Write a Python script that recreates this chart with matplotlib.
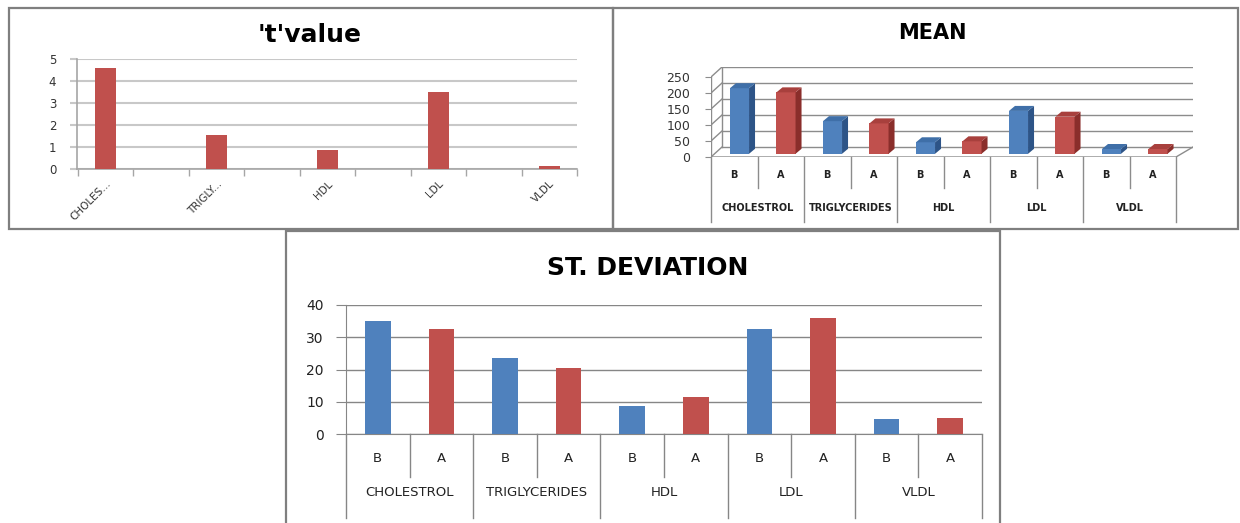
import matplotlib
matplotlib.use("Agg")
import matplotlib.pyplot as plt
from matplotlib.patches import Polygon, Rectangle
from matplotlib.transforms import blended_transform_factory

W, H = 1240, 523

groups = ["CHOLESTROL", "TRIGLYCERIDES", "HDL", "LDL", "VLDL"]
t_labels = ["CHOLES...", "TRIGLY...", "HDL", "LDL", "VLDL"]
phases = ["B", "A"]
t_value = [4.6, 1.53, 0.85, 3.5, 0.15]
mean_before = [205, 102, 36, 134, 15]
mean_after = [192, 95, 39, 116, 15]
sd_before = [35.0, 23.5, 8.7, 32.5, 4.65]
sd_after = [32.5, 20.5, 11.6, 36.1, 4.95]

BLUE = "#4f81bd"
RED = "#c0504d"
BLUE_SIDE, BLUE_TOP = "#2d5487", "#3f6fa8"
RED_SIDE, RED_TOP = "#8a2e2b", "#a8403d"
GRID = "#8c8c8c"

plt.rcParams["font.family"] = "DejaVu Sans"
fig = plt.figure(figsize=(W / 100, H / 100), dpi=100)


def px_axes(left, top, right, bottom):
    ax = fig.add_axes([left / W, 1 - bottom / H, (right - left) / W, (bottom - top) / H])
    ax.patch.set_visible(False)
    return ax


def fy(py):
    return 1 - py / H


# panel frames
for l, t, r, b in [(9, 8, 613, 229), (613, 8, 1238, 229), (286, 231, 1000, 540)]:
    fig.patches.append(Rectangle((l / W, fy(b)), (r - l) / W, (b - t) / H,
                                 transform=fig.transFigure, fill=False,
                                 ec="#7f7f7f", lw=1.6, zorder=0))

# ---- 't' value ----
ax1 = px_axes(77, 59, 577, 169)
x1 = list(range(len(t_value)))
ax1.bar(x1, t_value, width=0.19, color=RED, zorder=3)
ax1.set_xlim(-0.257, 4.25)
ax1.set_ylim(0, 5)
ax1.set_yticks(range(6))
ax1.yaxis.grid(True, color="#c8c8c8", lw=1.5)
ax1.set_axisbelow(True)
for s in ["top", "right"]:
    ax1.spines[s].set_visible(False)
for s in ["left", "bottom"]:
    ax1.spines[s].set_color("#a6a6a6")
    ax1.spines[s].set_linewidth(1.2)
ax1.tick_params(axis="y", length=5, color="#c8c8c8", width=1.5, labelsize=8.5,
                pad=10, labelcolor="#333333")
ax1.set_xticks(x1)
ax1.set_xticklabels(t_labels, rotation=45, ha="right", va="top",
                    rotation_mode="anchor", fontsize=7.5, color="#333333")
ax1.tick_params(axis="x", which="major", length=0, pad=7)
ax1.set_xticks([-0.25 + 0.5 * k for k in range(10)], minor=True)
ax1.tick_params(axis="x", which="minor", length=5, color="#a6a6a6", width=1)
fig.text(310 / W, fy(42), "'t'value", ha="center", va="baseline",
         fontsize=18, fontweight="bold")

# ---- MEAN (3-D columns) ----
SLOT, PXU = 46.5, 0.32          # pixels per slot, pixels per unit
wall_l, wall_r, wall_dy = 11 / SLOT, 17 / SLOT, 10 / PXU
side_dx, side_dy = 6 / SLOT, 5 / PXU
base, shift, bw = 3.2 / PXU, 0.113, 0.41
x_end = 9.5

ax2 = px_axes(711, 67, 1193, 157)
ax2.set_xlim(-0.5, x_end + wall_r)
ax2.set_ylim(0, 90 / PXU)
for s in ax2.spines.values():
    s.set_visible(False)
ax2.set_xticks([])
yt = list(range(0, 251, 50))
ax2.set_yticks(yt)
ax2.tick_params(axis="y", length=4, color=GRID, labelsize=9, pad=11,
                labelcolor="#333333")

for v in yt:
    ax2.plot([-0.5 + wall_l, x_end + wall_r], [v + wall_dy] * 2, color=GRID, lw=1, zorder=1)
    ax2.plot([-0.5, -0.5 + wall_l], [v, v + wall_dy], color=GRID, lw=1, zorder=1)
ax2.plot([-0.5 + wall_l] * 2, [wall_dy, yt[-1] + wall_dy], color=GRID, lw=1, zorder=1)
ax2.plot([-0.5, -0.5], [0, yt[-1]], color=GRID, lw=1, zorder=1)
ax2.plot([-0.5, x_end, x_end + wall_r], [0, 0, wall_dy], color=GRID, lw=1, zorder=1)

for j, (vals, front, side, top) in enumerate([(mean_before, BLUE, BLUE_SIDE, BLUE_TOP),
                                               (mean_after, RED, RED_SIDE, RED_TOP)]):
    xs = [2 * i + j + shift for i in range(len(vals))]
    ax2.bar(xs, vals, width=bw, bottom=base, color=front, zorder=3)
    for xc, v in zip(xs, vals):
        xl, xr = xc - bw / 2, xc + bw / 2
        ax2.add_patch(Polygon([(xr, base), (xr + side_dx, base + side_dy),
                               (xr + side_dx, base + v + side_dy), (xr, base + v)],
                              closed=True, fc=side, ec="none", zorder=3))
        ax2.add_patch(Polygon([(xl, base + v), (xr, base + v),
                               (xr + side_dx, base + v + side_dy),
                               (xl + side_dx, base + v + side_dy)],
                              closed=True, fc=top, ec="none", zorder=3))

tr2 = blended_transform_factory(ax2.transData, fig.transFigure)
for i, g in enumerate(groups):
    for j, p in enumerate(phases):
        ax2.text(2 * i + j, fy(175), p, transform=tr2, ha="center", va="center",
                 fontsize=7, fontweight="bold", color="#222222")
    ax2.text(2 * i + 0.5, fy(208), g, transform=tr2, ha="center", va="center",
             fontsize=7, fontweight="bold", color="#222222")
    ax2.plot([2 * i + 0.5] * 2, [fy(157), fy(188)], transform=tr2, color=GRID,
             lw=1, clip_on=False)
for k in range(len(groups) + 1):
    ax2.plot([2 * k - 0.5] * 2, [fy(157), fy(222)], transform=tr2, color=GRID,
             lw=1, clip_on=False)
fig.text(932 / W, fy(39), "MEAN", ha="center", va="baseline",
         fontsize=15, fontweight="bold")

# ---- ST. DEVIATION ----
ax3 = px_axes(346, 305, 982, 434)
xb = [2 * i for i in range(len(sd_before))]
xa = [2 * i + 1 for i in range(len(sd_after))]
ax3.bar(xb, sd_before, width=0.4, color=BLUE, zorder=3)
ax3.bar(xa, sd_after, width=0.4, color=RED, zorder=3)
ax3.set_xlim(-0.5, 9.5)
ax3.set_ylim(0, 40)
ax3.set_yticks(range(0, 41, 10))
ax3.yaxis.grid(True, color="#868686", lw=1)
ax3.set_axisbelow(True)
for s in ["top", "right"]:
    ax3.spines[s].set_visible(False)
for s in ["left", "bottom"]:
    ax3.spines[s].set_color("#868686")
ax3.set_xticks([])
ax3.tick_params(axis="y", length=7, color="#868686", labelsize=10, pad=9,
                labelcolor="#222222")

tr3 = blended_transform_factory(ax3.transData, fig.transFigure)
for i, g in enumerate(groups):
    for j, p in enumerate(phases):
        ax3.text(2 * i + j, fy(458), p, transform=tr3, ha="center", va="center",
                 fontsize=9.5, color="#222222")
    ax3.text(2 * i + 0.5, fy(493), g, transform=tr3, ha="center", va="center",
             fontsize=9.5, color="#222222")
    ax3.plot([2 * i + 0.5] * 2, [fy(434), fy(477)], transform=tr3, color="#868686",
             lw=1, clip_on=False)
for k in range(len(groups) + 1):
    ax3.plot([2 * k - 0.5] * 2, [fy(434), fy(518)], transform=tr3, color="#868686",
             lw=1, clip_on=False)
fig.text(648 / W, fy(275), "ST. DEVIATION", ha="center", va="baseline",
         fontsize=18, fontweight="bold")

fig.savefig("out.png", dpi=100, facecolor="white")
